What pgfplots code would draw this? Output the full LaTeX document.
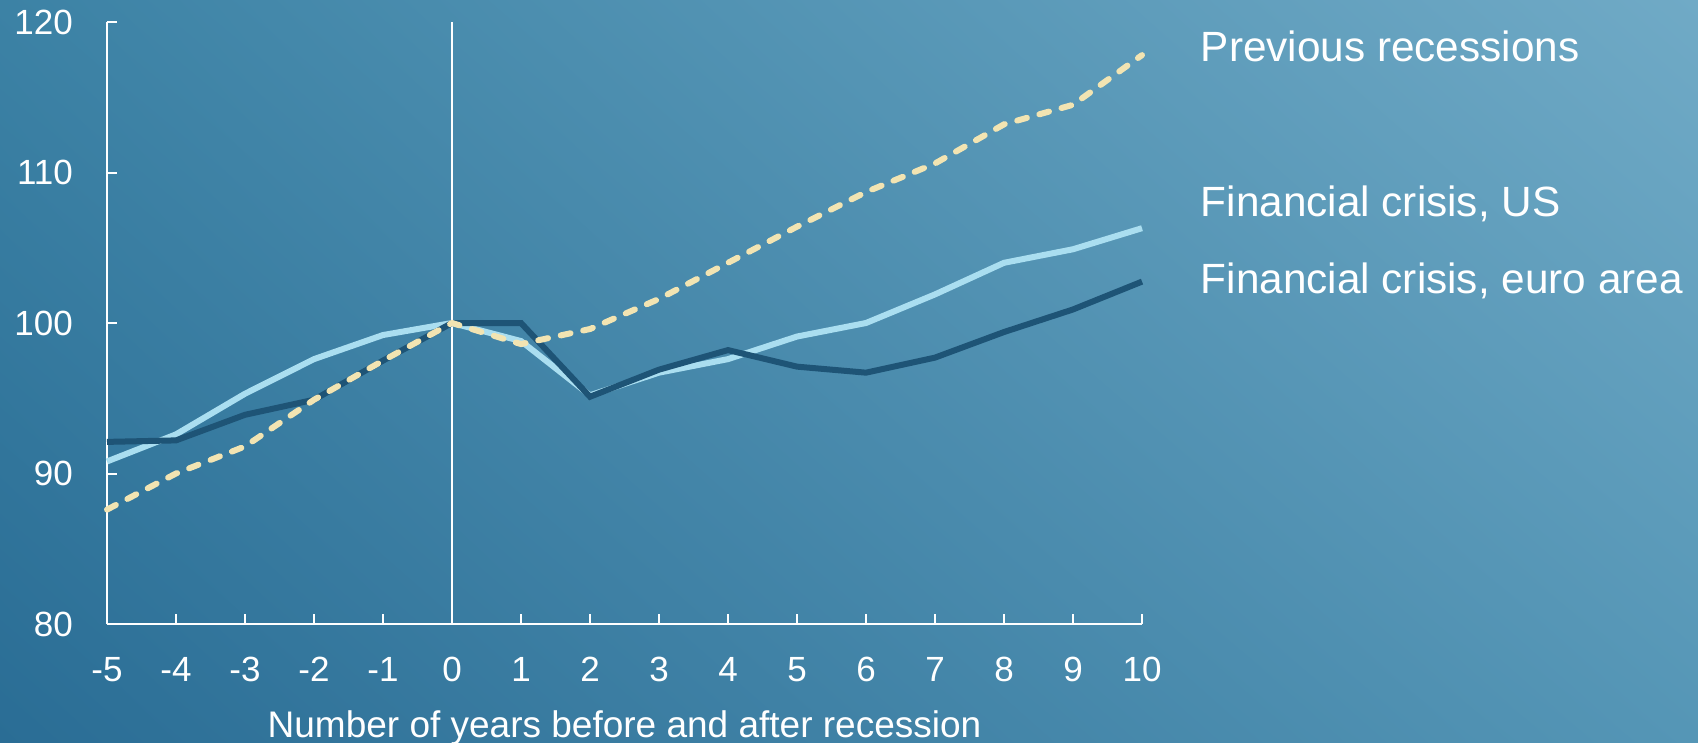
\documentclass[border=0pt]{standalone}
\usepackage{pgfplots}
\pgfplotsset{compat=1.18}
\usetikzlibrary{shadings}
\usepackage{fontspec}
\setmainfont{Liberation Sans}

\definecolor{bgLL}{RGB}{42,109,149}
\definecolor{bgUL}{RGB}{60,130,165}
\definecolor{bgLR}{RGB}{85,150,182}
\definecolor{bgUR}{RGB}{112,170,198}
\definecolor{usblue}{RGB}{170,222,240}
\definecolor{eurodark}{RGB}{30,84,118}
\definecolor{prevcream}{RGB}{242,228,178}

\begin{document}
\begin{tikzpicture}
% background
\shade[lower left=bgLL, upper left=bgUL, lower right=bgLR, upper right=bgUR]
  (0bp,0bp) rectangle (849bp,371.5bp);

\begin{axis}[
  at={(53.5bp,59.5bp)}, anchor=south west,
  width=517.5bp, height=301bp, scale only axis,
  xmin=-5, xmax=10, ymin=80, ymax=120,
  axis x line=bottom, axis y line=left,
  axis line style={white, line width=1bp, -},
  xtick={-5,-4,...,10}, ytick={80,90,...,120},
  tick align=inside, major tick length=5bp,
  tick style={white, line width=1bp},
  /pgf/number format/assume math mode=true,
  ticklabel style={white, inner sep=0pt, font=\fontsize{17.5bp}{21bp}\selectfont},
  xticklabel style={anchor=north}, xticklabel shift=16.3bp,
  yticklabel style={anchor=east}, yticklabel shift=16.9bp,
  xlabel={Number of years before and after recession},
  xlabel style={at={(axis description cs:0.5,0)}, anchor=base, yshift=-56.5bp,
    inner sep=0pt, white, font=\fontsize{18.5bp}{22bp}\selectfont},
  clip=false,
]
\draw[white, line width=1bp] (axis cs:0,80) -- (axis cs:0,120);

% Financial crisis, US
\addplot[usblue, line width=3bp, mark=none] coordinates {
  (-5,90.8) (-4,92.6) (-3,95.3) (-2,97.6) (-1,99.2) (0,100.0)
  (1,98.8) (2,95.2) (3,96.7) (4,97.6) (5,99.1) (6,100.0)
  (7,101.9) (8,104.0) (9,104.9) (10,106.3)
};
% Financial crisis, euro area
\addplot[eurodark, line width=3bp, mark=none] coordinates {
  (-5,92.1) (-4,92.2) (-3,93.9) (-2,94.9) (-1,97.5) (0,100.0)
  (1,100.0) (2,95.1) (3,96.9) (4,98.2) (5,97.1) (6,96.7)
  (7,97.7) (8,99.4) (9,100.9) (10,102.75)
};
% Previous recessions
\addplot[prevcream, line width=3bp, line cap=round, dash pattern=on 5bp off 6.5bp, mark=none] coordinates {
  (-5,87.6) (-4,90.0) (-3,91.8) (-2,94.9) (-1,97.5) (0,100.0)
  (1,98.6) (2,99.6) (3,101.6) (4,104.0) (5,106.4) (6,108.7)
  (7,110.6) (8,113.2) (9,114.5) (10,117.8)
};
\end{axis}

% series labels
\begin{scope}[every node/.style={anchor=base west, inner sep=0pt, white,
    font=\fontsize{21.15bp}{25bp}\selectfont}]
\node at (600.2bp,340.6bp) {Previous recessions};
\node at (600.2bp,263.2bp) {Financial crisis, US};
\node at (600.2bp,224.5bp) {Financial crisis, euro area};
\end{scope}

\pgfresetboundingbox
\useasboundingbox (0bp,0bp) rectangle (849bp,371.5bp);
\end{tikzpicture}
\end{document}
